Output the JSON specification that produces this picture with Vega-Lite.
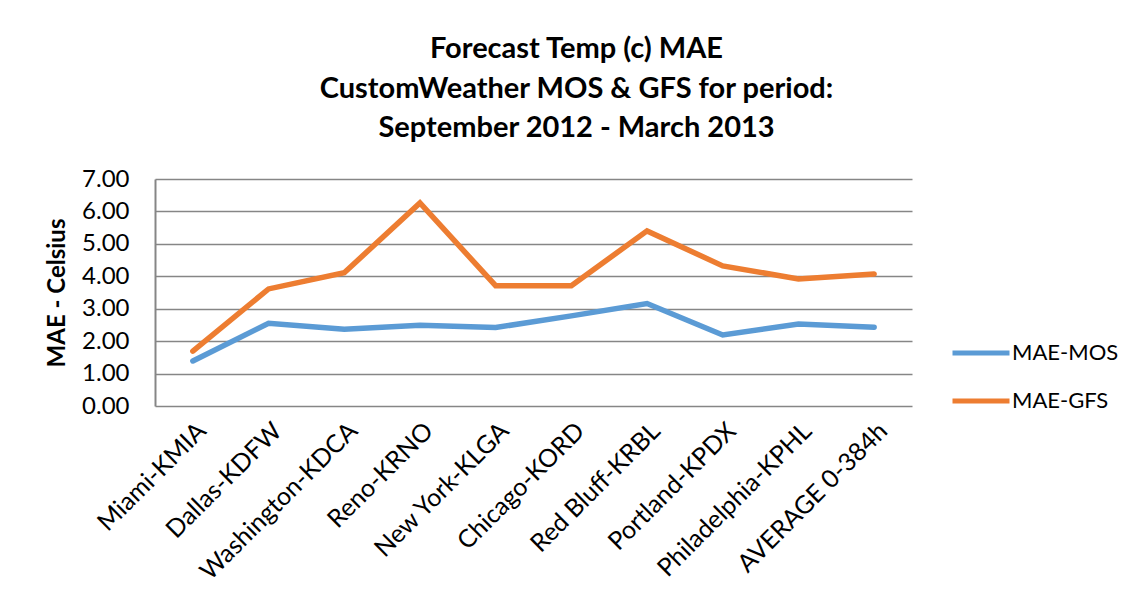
{
  "$schema": "https://vega.github.io/schema/vega-lite/v6.json",
  "width": 757,
  "height": 227,
  "autosize": {"type": "none"},
  "padding": {"left": 155, "top": 179, "right": 231, "bottom": 193},
  "background": "white",
  "title": {
    "text": ["Forecast Temp (c) MAE", "CustomWeather MOS & GFS for period:", "September 2012 - March 2013"],
    "font": "Lato",
    "fontSize": 29,
    "fontWeight": "bold",
    "color": "#000000",
    "lineHeight": 39.5,
    "anchor": "middle",
    "dx": 43,
    "offset": 24
  },
  "data": {
    "values": [
      {"station": "Miami-KMIA", "series": "MAE-MOS", "mae": 1.39},
      {"station": "Dallas-KDFW", "series": "MAE-MOS", "mae": 2.55},
      {"station": "Washington-KDCA", "series": "MAE-MOS", "mae": 2.37},
      {"station": "Reno-KRNO", "series": "MAE-MOS", "mae": 2.49},
      {"station": "New York-KLGA", "series": "MAE-MOS", "mae": 2.42},
      {"station": "Chicago-KORD", "series": "MAE-MOS", "mae": 2.78},
      {"station": "Red Bluff-KRBL", "series": "MAE-MOS", "mae": 3.16},
      {"station": "Portland-KPDX", "series": "MAE-MOS", "mae": 2.19},
      {"station": "Philadelphia-KPHL", "series": "MAE-MOS", "mae": 2.53},
      {"station": "AVERAGE 0-384h", "series": "MAE-MOS", "mae": 2.43},
      {"station": "Miami-KMIA", "series": "MAE-GFS", "mae": 1.69},
      {"station": "Dallas-KDFW", "series": "MAE-GFS", "mae": 3.61},
      {"station": "Washington-KDCA", "series": "MAE-GFS", "mae": 4.11},
      {"station": "Reno-KRNO", "series": "MAE-GFS", "mae": 6.26},
      {"station": "New York-KLGA", "series": "MAE-GFS", "mae": 3.71},
      {"station": "Chicago-KORD", "series": "MAE-GFS", "mae": 3.71},
      {"station": "Red Bluff-KRBL", "series": "MAE-GFS", "mae": 5.40},
      {"station": "Portland-KPDX", "series": "MAE-GFS", "mae": 4.32},
      {"station": "Philadelphia-KPHL", "series": "MAE-GFS", "mae": 3.92},
      {"station": "AVERAGE 0-384h", "series": "MAE-GFS", "mae": 4.07}
    ]
  },
  "mark": {"type": "line", "strokeWidth": 5.5, "strokeCap": "round", "strokeJoin": "miter"},
  "encoding": {
    "x": {
      "field": "station",
      "type": "nominal",
      "sort": null,
      "scale": {"type": "point", "padding": 0.5},
      "axis": {
        "title": null,
        "labelAngle": -45,
        "labelFont": "Lato",
        "labelFontSize": 25,
        "labelColor": "#000000",
        "labelPadding": 12,
        "ticks": false,
        "domain": false,
        "grid": false,
        "labelLimit": 300
      }
    },
    "y": {
      "field": "mae",
      "type": "quantitative",
      "scale": {"domain": [0, 7], "nice": false},
      "axis": {
        "title": "MAE - Celsius",
        "titleFont": "Lato",
        "titleFontSize": 24,
        "titleFontWeight": "bold",
        "titleColor": "#000000",
        "titlePadding": 12,
        "values": [0, 1, 2, 3, 4, 5, 6, 7],
        "format": ".2f",
        "labelFont": "Lato",
        "labelFontSize": 24,
        "labelColor": "#000000",
        "labelPadding": 26,
        "ticks": false,
        "domain": true,
        "domainColor": "#868686",
        "domainWidth": 2,
        "grid": true,
        "gridColor": "#868686",
        "gridWidth": 1.5
      }
    },
    "color": {
      "field": "series",
      "type": "nominal",
      "sort": ["MAE-MOS", "MAE-GFS"],
      "scale": {"domain": ["MAE-MOS", "MAE-GFS"], "range": ["#5B9BD5", "#ED7D31"]},
      "legend": {
        "title": null,
        "orient": "none",
        "legendX": 795,
        "legendY": 143,
        "symbolType": "stroke",
        "symbolSize": 3249,
        "symbolStrokeWidth": 5,
        "labelFont": "Lato",
        "labelFontSize": 22,
        "labelColor": "#000000",
        "labelOffset": 0,
        "rowPadding": 6
      }
    }
  },
  "config": {
    "view": {"stroke": null},
    "axisX": {"domain": true}
  }
}
